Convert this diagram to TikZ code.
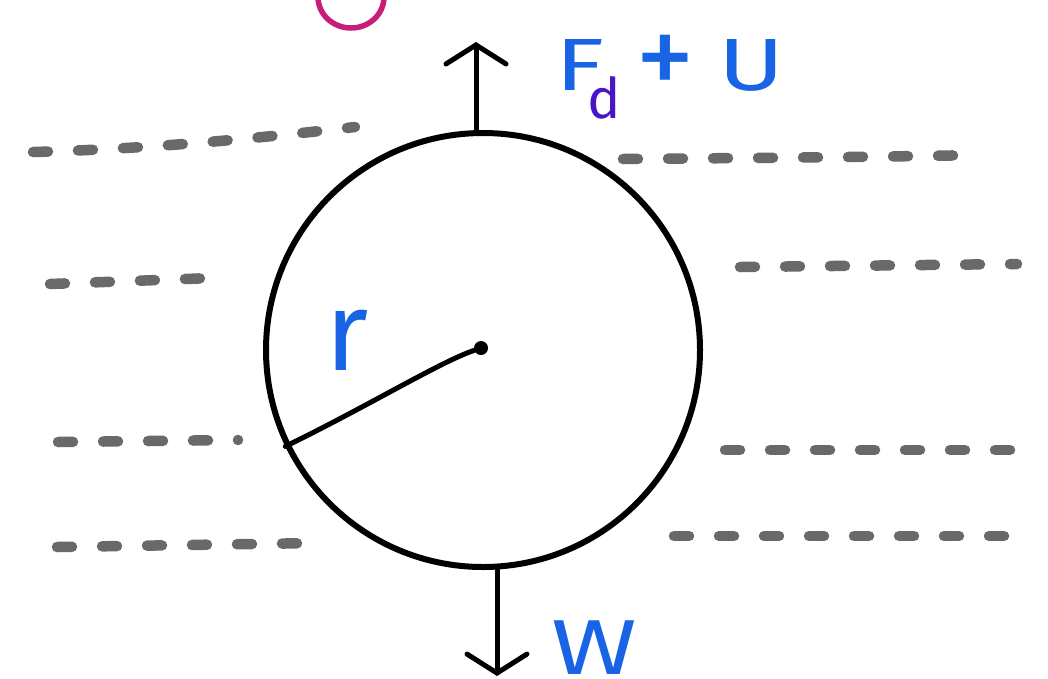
\documentclass[tikz,border=0pt]{standalone}
\usepackage{fontspec}
\setmainfont{Fira Sans}
\usetikzlibrary{arrows.meta}
\definecolor{inkblue}{RGB}{25,100,228}
\definecolor{inkpurple}{RGB}{72,22,200}
\definecolor{inkpink}{RGB}{200,30,120}
\definecolor{flowgray}{RGB}{105,105,105}
\begin{document}
\begin{tikzpicture}[x=1pt,y=-1pt,
  flow/.style={draw=flowgray, line width=10.5pt, line cap=round, dash pattern=on 15pt off 30pt},
  force/.style={draw=black, line width=5pt, line cap=round, -{Straight Barb[length=19pt,width=60pt,line cap=round]}},
  lab/.style={text=inkblue, inner sep=0pt}]
\useasboundingbox (0,0) rectangle (1048,678);
\clip (0,0) rectangle (1048,678);
\fill[white] (0,0) rectangle (1048,678);

% flow lines left
\draw[flow] (33,152) .. controls (150,149) and (260,138) .. (355,127);
\draw[flow] (50,284) -- (212,278);
\draw[flow] (58,442) -- (238,440);
\draw[flow] (57,547) -- (317,543);
% flow lines right
\draw[flow] (623,159) .. controls (750,158) and (880,157) .. (977,155);
\draw[flow] (740,267) -- (1017,264);
\draw[flow] (725,450) -- (1036,450);
\draw[flow] (674,536) -- (1026,536);

% pink arc at top
\draw[inkpink, line width=5.5pt] (318,-3) arc[start angle=180, end angle=0, x radius=33, y radius=31];

% ball
\node[circle, draw, line width=6pt, minimum size=434pt, inner sep=0pt] (ball) at (483,350) {};
\node[circle, fill=black, inner sep=0pt, minimum size=14pt] (ctr) at (481,348) {};
\draw[line width=5pt, line cap=round] (ball.206.7) .. controls (370,405) and (440,362) .. (ctr);

% forces
\coordinate (uptip) at (476,42);
\coordinate (dntip) at (497,676);
\draw[force] (ball.north -| uptip) -- (uptip);
\draw[force] (ball.south -| dntip) -- (dntip);

% labels
\node[lab, font=\fontsize{112}{112}\selectfont, anchor=base] (rlab) at (347,370) {r};
\node[lab, font=\fontsize{74}{74}\selectfont, anchor=base west, xscale=1.35] (Flab) at (555,90) {F};
\node[text=inkpurple, inner sep=0pt, font=\fontsize{56}{56}\selectfont, anchor=base] (dlab) at (604,118) {d};
\node[lab, font=\fontsize{120}{120}\selectfont] (plus) at (665,66) {+};
\node[lab, font=\fontsize{74}{74}\selectfont, anchor=base west, xscale=1.35] (Ulab) at (718,90) {U};
\node[lab, font=\fontsize{78}{78}\selectfont, anchor=base, xscale=1.33] (Wlab) at (594,674) {W};
\end{tikzpicture}
\end{document}
